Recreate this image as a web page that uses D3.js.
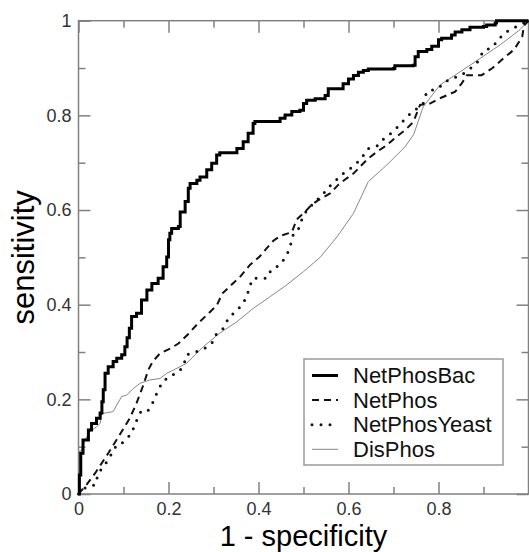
<!DOCTYPE html>
<html>
<head>
<meta charset="UTF-8">
<script src="https://d3js.org/d3.v7.min.js"></script>
<style>
  body { margin: 0; background: #fff; }
  svg { font-family: "Liberation Sans", Arial, sans-serif; }
</style>
</head>
<body>
<div id="chart"></div>
<script>
// ticks
const majorTicks = [0, 0.2, 0.4, 0.6, 0.8, 1];
const minorTicks = [0.1, 0.3, 0.5, 0.7, 0.9];
const xTickLabels = ["0", "0.2", "0.4", "0.6", "0.8", ""];
const yTickLabels = ["0", "0.2", "0.4", "0.6", "0.8", "1"];

const seriesNames = ["NetPhosBac", "NetPhos", "NetPhosYeast", "DisPhos"];

// NetPhosBac
const bacFpr = [0, 0.002, 0.005, 0.010, 0.022, 0.029, 0.040, 0.048, 0.052, 0.055, 0.059, 0.066, 0.077, 0.085, 0.096,
  0.103, 0.108, 0.113, 0.118, 0.129, 0.140, 0.152, 0.163, 0.177, 0.188, 0.196, 0.200, 0.203, 0.207, 0.222, 0.226,
  0.237, 0.244, 0.248, 0.263, 0.270, 0.285, 0.296, 0.307, 0.314, 0.345, 0.352, 0.366, 0.377, 0.388, 0.392, 0.444,
  0.448, 0.459, 0.474, 0.492, 0.500, 0.507, 0.526, 0.548, 0.555, 0.577, 0.588, 0.600, 0.611, 0.622, 0.633, 0.644,
  0.700, 0.703, 0.744, 0.748, 0.755, 0.774, 0.785, 0.800, 0.807, 0.829, 0.837, 0.852, 0.870, 0.900, 0.907, 0.926,
  0.929, 1.0];
const bacTpr = [0, 0.040, 0.086, 0.114, 0.135, 0.149, 0.160, 0.171, 0.195, 0.220, 0.255, 0.269, 0.280, 0.287, 0.294,
  0.311, 0.330, 0.350, 0.375, 0.382, 0.410, 0.431, 0.445, 0.456, 0.480, 0.501, 0.537, 0.551, 0.561, 0.565, 0.596,
  0.618, 0.646, 0.656, 0.663, 0.670, 0.685, 0.699, 0.716, 0.721, 0.721, 0.730, 0.744, 0.762, 0.783, 0.787, 0.787,
  0.794, 0.801, 0.808, 0.811, 0.825, 0.832, 0.835, 0.842, 0.856, 0.856, 0.867, 0.877, 0.884, 0.891, 0.895, 0.898,
  0.899, 0.905, 0.906, 0.924, 0.935, 0.939, 0.946, 0.960, 0.963, 0.970, 0.976, 0.981, 0.986, 0.988, 0.991, 0.995,
  1.0, 1.0];

// NetPhos
const npFpr = [0, 0.018, 0.037, 0.066, 0.096, 0.114, 0.129, 0.144, 0.155, 0.165, 0.181, 0.205, 0.222, 0.244, 0.264,
  0.287, 0.307, 0.320, 0.340, 0.360, 0.381, 0.402, 0.418, 0.433, 0.450, 0.474, 0.485, 0.500, 0.518, 0.533, 0.559,
  0.577, 0.596, 0.611, 0.626, 0.644, 0.663, 0.685, 0.703, 0.726, 0.744, 0.759, 0.781, 0.803, 0.837, 0.852, 0.863,
  0.896, 0.920, 0.945, 0.968, 0.986, 0.990, 1.0];
const npTpr = [0, 0.020, 0.044, 0.086, 0.132, 0.160, 0.192, 0.230, 0.262, 0.280, 0.297, 0.308, 0.318, 0.338, 0.359,
  0.380, 0.398, 0.424, 0.442, 0.460, 0.484, 0.501, 0.519, 0.535, 0.546, 0.553, 0.580, 0.593, 0.611, 0.621, 0.635,
  0.653, 0.667, 0.677, 0.692, 0.709, 0.723, 0.737, 0.752, 0.769, 0.786, 0.822, 0.825, 0.836, 0.850, 0.868, 0.885,
  0.885, 0.900, 0.921, 0.939, 0.966, 0.990, 1.0];

// NetPhosYeast
const npyFpr = [0, 0.007, 0.018, 0.037, 0.044, 0.066, 0.074, 0.085, 0.096, 0.111, 0.118, 0.126, 0.140, 0.155, 0.166,
  0.174, 0.185, 0.200, 0.218, 0.233, 0.240, 0.263, 0.281, 0.296, 0.307, 0.322, 0.333, 0.348, 0.363, 0.374, 0.380,
  0.388, 0.418, 0.429, 0.448, 0.463, 0.470, 0.477, 0.488, 0.500, 0.520, 0.540, 0.560, 0.588, 0.610, 0.626, 0.644,
  0.663, 0.680, 0.700, 0.733, 0.766, 0.774, 0.800, 0.814, 0.833, 0.863, 0.888, 0.900, 0.918, 0.929, 0.946, 0.966,
  0.981, 1.0];
const npyTpr = [0, 0.008, 0.015, 0.019, 0.044, 0.072, 0.086, 0.104, 0.107, 0.121, 0.128, 0.149, 0.177, 0.177, 0.195,
  0.213, 0.234, 0.248, 0.255, 0.269, 0.294, 0.301, 0.308, 0.318, 0.339, 0.350, 0.371, 0.385, 0.399, 0.417, 0.438,
  0.456, 0.456, 0.475, 0.484, 0.505, 0.522, 0.547, 0.558, 0.590, 0.612, 0.630, 0.652, 0.677, 0.692, 0.706, 0.730,
  0.735, 0.752, 0.766, 0.800, 0.825, 0.850, 0.857, 0.871, 0.878, 0.892, 0.914, 0.937, 0.942, 0.955, 0.974, 0.984,
  0.991, 1.0];

// DisPhos
const dpFpr = [0, 0.002, 0.007, 0.014, 0.026, 0.040, 0.048, 0.052, 0.077, 0.085, 0.096, 0.107, 0.122, 0.137, 0.159,
  0.181, 0.196, 0.211, 0.240, 0.277, 0.314, 0.352, 0.388, 0.426, 0.463, 0.500, 0.537, 0.575, 0.611, 0.644, 0.685,
  0.726, 0.745, 0.766, 0.803, 0.848, 0.892, 0.937, 0.981, 1.0];
const dpTpr = [0, 0.090, 0.093, 0.114, 0.132, 0.142, 0.149, 0.170, 0.174, 0.188, 0.206, 0.209, 0.223, 0.234, 0.241,
  0.244, 0.255, 0.262, 0.276, 0.311, 0.340, 0.364, 0.392, 0.417, 0.442, 0.470, 0.500, 0.544, 0.593, 0.660, 0.695,
  0.734, 0.760, 0.818, 0.864, 0.892, 0.920, 0.949, 0.981, 1.0];

const W = 529, H = 552;
const x = d3.scaleLinear().domain([0, 1]).range([78.5, 528.5]);
const y = d3.scaleLinear().domain([0, 1]).range([494, 20.7]);

const svg = d3.select("#chart").append("svg")
  .attr("width", W)
  .attr("height", H);

const frameColor = "#808080";

// frame
svg.append("rect")
  .attr("x", x(0))
  .attr("y", y(1))
  .attr("width", x(1) - x(0))
  .attr("height", y(0) - y(1))
  .attr("fill", "none")
  .attr("stroke", frameColor)
  .attr("stroke-width", 1.5);

function styleAxis(g) {
  g.select(".domain").remove();
  g.selectAll(".tick line").attr("stroke", frameColor).attr("stroke-width", 1.5);
  g.selectAll(".tick text")
    .attr("fill", "#333")
    .attr("font-size", 18)
    .attr("font-family", "'Liberation Sans', Arial, sans-serif");
}

// bottom
svg.append("g").attr("transform", `translate(0,${y(0)})`)
  .call(d3.axisBottom(x).tickValues(majorTicks).tickSize(-12).tickPadding(8)
    .tickFormat((d, i) => xTickLabels[i]))
  .call(styleAxis);
svg.append("g").attr("transform", `translate(0,${y(0)})`)
  .call(d3.axisBottom(x).tickValues(minorTicks).tickSize(-7).tickFormat(""))
  .call(styleAxis);
// top
svg.append("g").attr("transform", `translate(0,${y(1)})`)
  .call(d3.axisTop(x).tickValues(majorTicks).tickSize(-12).tickFormat(""))
  .call(styleAxis);
svg.append("g").attr("transform", `translate(0,${y(1)})`)
  .call(d3.axisTop(x).tickValues(minorTicks).tickSize(-7).tickFormat(""))
  .call(styleAxis);
// left
svg.append("g").attr("transform", `translate(${x(0)},0)`)
  .call(d3.axisLeft(y).tickValues(majorTicks).tickSize(-12).tickPadding(7)
    .tickFormat((d, i) => yTickLabels[i]))
  .call(styleAxis);
svg.append("g").attr("transform", `translate(${x(0)},0)`)
  .call(d3.axisLeft(y).tickValues(minorTicks).tickSize(-7).tickFormat(""))
  .call(styleAxis);
// right
svg.append("g").attr("transform", `translate(${x(1)},0)`)
  .call(d3.axisRight(y).tickValues(majorTicks).tickSize(-12).tickFormat(""))
  .call(styleAxis);
svg.append("g").attr("transform", `translate(${x(1)},0)`)
  .call(d3.axisRight(y).tickValues(minorTicks).tickSize(-7).tickFormat(""))
  .call(styleAxis);

// series, in legend order
const series = [
  { name: seriesNames[0], fpr: bacFpr, tpr: bacTpr, stroke: "#000", width: 3, dash: null, cap: "butt", curve: d3.curveStepAfter },
  { name: seriesNames[1], fpr: npFpr, tpr: npTpr, stroke: "#111", width: 2, dash: "7,5", cap: "butt", curve: d3.curveLinear },
  { name: seriesNames[2], fpr: npyFpr, tpr: npyTpr, stroke: "#111", width: 3, dash: "0,9", cap: "round", curve: d3.curveLinear },
  { name: seriesNames[3], fpr: dpFpr, tpr: dpTpr, stroke: "#888", width: 1, dash: null, cap: "butt", curve: d3.curveLinear }
];

// draw thin first, thick last
series.slice().reverse().forEach(s => {
  const pts = s.fpr.map((v, i) => [v, s.tpr[i]]);
  const line = d3.line().x(d => x(d[0])).y(d => y(d[1])).curve(s.curve);
  svg.append("path")
    .datum(pts)
    .attr("d", line)
    .attr("fill", "none")
    .attr("stroke", s.stroke)
    .attr("stroke-width", s.width)
    .attr("stroke-dasharray", s.dash)
    .attr("stroke-linecap", s.cap)
    .attr("stroke-linejoin", "miter");
});

// axis titles
svg.append("text")
  .attr("x", (x(0) + x(1)) / 2)
  .attr("y", 546)
  .attr("text-anchor", "middle")
  .attr("font-size", 29)
  .attr("fill", "#000")
  .text("1 - specificity");

svg.append("text")
  .attr("transform", `translate(34,${(y(0) + y(1)) / 2}) rotate(-90)`)
  .attr("text-anchor", "middle")
  .attr("font-size", 31)
  .attr("fill", "#000")
  .text("sensitivity");

// legend
const legend = svg.append("g");
legend.append("rect")
  .attr("x", 304).attr("y", 359)
  .attr("width", 199).attr("height", 106)
  .attr("fill", "#fff")
  .attr("stroke", "#999")
  .attr("stroke-width", 1.5);

series.forEach((s, i) => {
  const base = 383 + i * 24.6;
  legend.append("line")
    .attr("x1", 312).attr("x2", 338)
    .attr("y1", base - 7.5).attr("y2", base - 7.5)
    .attr("stroke", s.stroke)
    .attr("stroke-width", s.width)
    .attr("stroke-dasharray", s.dash)
    .attr("stroke-linecap", s.cap);
  legend.append("text")
    .attr("x", 353).attr("y", base)
    .attr("font-size", 22)
    .attr("fill", "#111")
    .text(s.name);
});
</script>
</body>
</html>
